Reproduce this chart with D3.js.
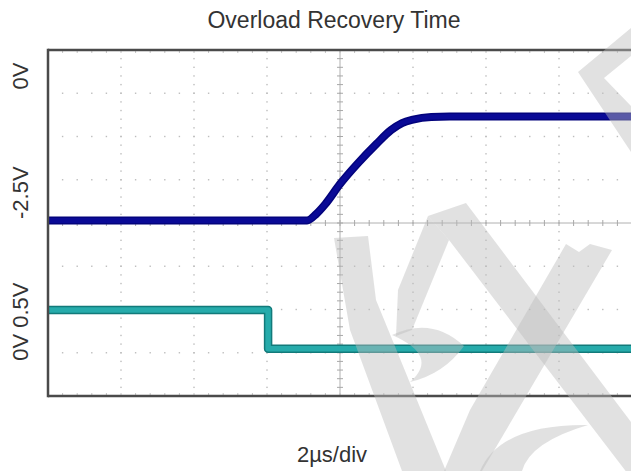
<!DOCTYPE html>
<html><head><meta charset="utf-8">
<script src="https://cdn.jsdelivr.net/npm/d3@7/dist/d3.min.js"></script>
<style>
html,body{margin:0;padding:0;background:#fff;}
svg{display:block;font-family:"Liberation Sans",Arial,Helvetica,sans-serif;}
</style></head><body>
<svg id="chart" width="631" height="471"></svg>
<script>
// ---- data (time in µs, amplitude in screen divisions from centre) ----
const titleText = "Overload Recovery Time";
const xLabel = "2µs/div";
const yLabels = ["0V", "-2.5V", "0V 0.5V"];
const yLabelPos = [3.4, 0.7, -2.28];           // label centres, in divisions
const outputTime = [0, 7.1, 7.35, 7.6, 8.0, 8.5, 9.0, 9.4, 9.7, 10.0, 10.5, 11.0, 13.0, 16.0];
const outputDiv  = [0.06, 0.06, 0.21, 0.44, 0.90, 1.39, 1.83, 2.15, 2.31, 2.39, 2.45, 2.46, 2.46, 2.46];
const inputTime  = [0, 6.03, 6.03, 16.0];
const inputDiv   = [-2.01, -2.01, -2.91, -2.91];
const timeDomain = [0, 16];      // 8 divisions × 2 µs
const divDomain  = [-4, 4];

const svg = d3.select("#chart");
const x = d3.scaleLinear().domain(timeDomain).range([48, 632]);
const y = d3.scaleLinear().domain(divDomain).range([396, 50]);

// grid dots
const g = svg.append("g");
const minorX = d3.range(0, 16.001, 0.4);
const minorY = d3.range(-4, 4.001, 0.2);
const majorX = d3.range(2, 16, 2).filter(v => v !== 8);
const majorY = d3.range(-3, 4, 1).filter(v => v !== 0);
majorX.forEach(t => {
  g.selectAll(null).data(minorY).enter().append("rect")
    .attr("x", x(t) - 0.7).attr("y", d => y(d) - 0.7).attr("width", 1.4).attr("height", 1.4)
    .attr("fill", "#bdbdbd");
});
majorY.forEach(v => {
  g.selectAll(null).data(minorX).enter().append("rect")
    .attr("x", d => x(d) - 0.7).attr("y", y(v) - 0.7).attr("width", 1.4).attr("height", 1.4)
    .attr("fill", "#bdbdbd");
});
// centre cross with ticks
g.append("line").attr("x1", x(0)).attr("x2", x(16)).attr("y1", y(0)).attr("y2", y(0))
  .attr("stroke", "#b0b0b0").attr("stroke-width", 1);
g.append("line").attr("x1", x(8)).attr("x2", x(8)).attr("y1", y(-4)).attr("y2", y(4))
  .attr("stroke", "#b0b0b0").attr("stroke-width", 1);
g.selectAll(null).data(minorX).enter().append("line")
  .attr("x1", d => x(d)).attr("x2", d => x(d)).attr("y1", y(0) - 3).attr("y2", y(0) + 3)
  .attr("stroke", "#a8a8a8").attr("stroke-width", 1);
g.selectAll(null).data(minorY).enter().append("line")
  .attr("x1", x(8) - 3).attr("x2", x(8) + 3).attr("y1", d => y(d)).attr("y2", d => y(d))
  .attr("stroke", "#a8a8a8").attr("stroke-width", 1);
// edge ticks
g.selectAll(null).data(minorX).enter().append("line")
  .attr("x1", d => x(d)).attr("x2", d => x(d)).attr("y1", y(4)).attr("y2", y(4) + 3)
  .attr("stroke", "#c4c4c4").attr("stroke-width", 1);
g.selectAll(null).data(minorX).enter().append("line")
  .attr("x1", d => x(d)).attr("x2", d => x(d)).attr("y1", y(-4) - 3).attr("y2", y(-4))
  .attr("stroke", "#c4c4c4").attr("stroke-width", 1);

// traces
const line = d3.line().x(d => x(d[0])).y(d => y(d[1]));
const lineSmooth = d3.line().x(d => x(d[0])).y(d => y(d[1])).curve(d3.curveMonotoneX);
const outData = outputTime.map((t, i) => [t, outputDiv[i]]);
const inData = inputTime.map((t, i) => [t, inputDiv[i]]);
svg.append("path").datum(inData).attr("d", line).attr("fill", "none")
  .attr("stroke", "#127a7a").attr("stroke-width", 8.5).attr("stroke-linejoin", "round");
svg.append("path").datum(inData).attr("d", line).attr("fill", "none")
  .attr("stroke", "#26abab").attr("stroke-width", 5.5).attr("stroke-linejoin", "round");
svg.append("path").datum(outData).attr("d", lineSmooth).attr("fill", "none")
  .attr("stroke", "#03037c").attr("stroke-width", 8).attr("stroke-linejoin", "round");
svg.append("path").datum(outData).attr("d", lineSmooth).attr("fill", "none")
  .attr("stroke", "#0a0a96").attr("stroke-width", 5).attr("stroke-linejoin", "round");

// frame
const frame = svg.append("g").attr("stroke", "#4a4a4a").attr("stroke-width", 2.5).attr("fill", "none");
frame.append("line").attr("x1", x(0)).attr("x2", x(0)).attr("y1", y(4) - 1.2).attr("y2", y(-4) + 1.2);
frame.append("line").attr("x1", x(0)).attr("x2", x(16)).attr("y1", y(4)).attr("y2", y(4));
frame.append("line").attr("x1", x(0)).attr("x2", x(16)).attr("y1", y(-4)).attr("y2", y(-4));

// text
svg.append("text").attr("x", 334).attr("y", 28).attr("text-anchor", "middle")
  .attr("font-size", 23).attr("fill", "#333").text(titleText);
svg.append("text").attr("x", 332).attr("y", 462).attr("text-anchor", "middle")
  .attr("font-size", 22).attr("fill", "#333").text(xLabel);
yLabels.forEach((s, i) => {
  svg.append("text").attr("transform", `translate(28,${y(yLabelPos[i])}) rotate(-90)`)
    .attr("text-anchor", "middle").attr("font-size", 22).attr("fill", "#333").text(s);
});

// watermark (decorative, faint)
const wm = [
  "M578,72 L631,28 L631,56 L604,78 L631,106 L631,152 Z",
  "M428,216 L466,203 L631,422 L631,478 L449,240 Z",
  "M428,216 L449,240 L412,330 L396,336 L398,290 Z",
  "M566,244 L579,252 L590,244 L612,250 L512,420 L482,471 L444,471 L470,410 Z",
  "M334,238 L368,236 L376,300 L446,471 L402,471 L350,330 Z",
  "M392,335 Q432,316 464,346 Q444,374 410,382 Q440,356 392,335 Z",
  "M480,471 Q500,424 588,425 Q530,442 522,471 Z"
];
svg.append("g").selectAll("path").data(wm).enter().append("path")
  .attr("d", d => d).attr("fill", "#bdbdbd").attr("opacity", 0.45);
</script>
</body></html>
